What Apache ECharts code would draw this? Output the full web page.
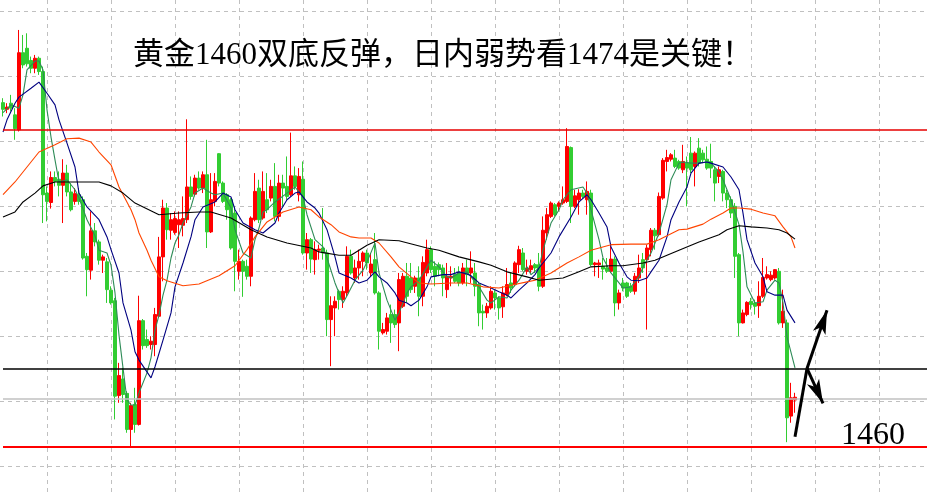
<!DOCTYPE html>
<html>
<head>
<meta charset="utf-8">
<script src="https://cdn.jsdelivr.net/npm/echarts@6/dist/echarts.min.js"></script>
<style>html,body{margin:0;padding:0;background:#fff;}#c{width:927px;height:496px;}</style>
</head>
<body>
<div id="c"></div>
<script>
// ---------------- data ----------------
const titleText = '黄金1460双底反弹，日内弱势看1474是关键！';
const levelLabel = '1460';
const categoryCount = 232;
const categories = Array.from({ length: categoryCount }, (_, i) => String(i + 1));

// candles: [open, close, low, high]
const ohlc = [
[1522.0,1520.8,1519.5,1522.8],[1520.8,1521.2,1520.1,1521.9],[1521.9,1521.0,1520.4,1523.4],[1519.8,1517.3,1515.3,1521.0],
[1517.1,1531.0,1516.8,1535.1],[1531.0,1528.8,1528.2,1534.2],[1531.8,1529.0,1528.5,1534.5],[1529.6,1528.2,1527.3,1530.3],
[1528.2,1530.0,1527.3,1530.6],[1530.0,1527.6,1527.0,1530.3],[1527.6,1505.4,1500.3,1528.5],[1505.7,1504.2,1500.6,1506.9],
[1504.0,1508.5,1502.9,1509.6],[1508.5,1507.8,1506.9,1509.6],[1508.2,1507.1,1505.1,1509.6],[1507.1,1509.3,1500.3,1511.8],
[1509.3,1505.9,1505.1,1510.8],[1505.9,1502.7,1502.4,1507.5],[1504.2,1505.6,1503.6,1506.6],[1505.4,1504.2,1503.6,1506.6],
[1504.5,1494.0,1493.7,1505.1],[1494.3,1491.9,1487.1,1494.9],[1491.8,1498.9,1490.1,1502.4],[1498.9,1496.9,1496.1,1500.3],
[1496.9,1493.6,1492.8,1497.3],[1493.6,1494.2,1491.3,1494.6],[1493.3,1488.3,1485.9,1494.0],[1488.2,1485.9,1485.6,1488.9],
[1486.3,1469.1,1464.9,1486.8],[1469.2,1472.8,1467.9,1475.1],[1472.2,1469.4,1467.9,1474.2],[1469.6,1463.1,1462.5,1470.0],
[1463.1,1467.4,1459.8,1467.9],[1467.6,1464.0,1462.5,1470.6],[1464.0,1482.7,1463.8,1487.2],[1482.7,1478.2,1477.5,1483.0],
[1479.3,1478.2,1477.8,1481.1],[1478.4,1479.0,1477.5,1479.9],[1478.4,1483.8,1476.3,1485.0],[1483.5,1494.2,1483.2,1497.8],
[1494.2,1503.0,1489.8,1504.5],[1503.0,1499.1,1497.3,1503.9],[1499.0,1500.9,1497.3,1502.1],[1498.6,1501.1,1498.2,1502.4],
[1500.0,1500.9,1495.8,1502.4],[1499.9,1501.1,1497.9,1505.1],[1500.9,1506.8,1500.3,1519.0],[1506.8,1505.1,1504.5,1508.7],
[1505.5,1508.4,1505.1,1509.0],[1508.4,1506.6,1506.3,1509.6],[1506.6,1509.0,1505.7,1509.6],[1509.0,1498.7,1495.8,1515.3],
[1498.7,1504.5,1498.5,1509.3],[1504.2,1507.8,1503.3,1509.3],[1512.8,1507.5,1506.9,1512.9],[1507.5,1504.2,1503.9,1507.8],
[1505.4,1502.7,1500.9,1505.7],[1504.5,1495.8,1495.5,1504.8],[1502.1,1493.4,1488.0,1503.3],[1491.6,1493.4,1490.1,1495.5],
[1493.4,1491.6,1487.0,1493.7],[1492.5,1490.7,1490.1,1493.7],[1490.7,1501.2,1488.9,1501.5],[1500.9,1506.0,1500.6,1509.3],
[1506.6,1500.9,1500.3,1508.1],[1501.2,1506.0,1500.9,1509.6],[1504.5,1502.7,1502.1,1509.3],[1504.8,1506.9,1504.2,1508.1],
[1506.9,1501.5,1500.6,1511.1],[1501.5,1507.5,1500.6,1509.0],[1507.5,1506.6,1503.3,1509.0],[1506.9,1505.1,1504.5,1512.3],
[1505.4,1508.8,1505.1,1516.6],[1508.8,1506.9,1506.3,1510.5],[1505.4,1508.7,1504.2,1510.2],[1508.2,1494.9,1494.6,1511.4],
[1494.9,1497.3,1491.9,1498.5],[1497.3,1493.8,1491.3,1497.6],[1493.7,1495.5,1491.0,1497.0],[1495.4,1495.6,1493.7,1496.4],
[1495.8,1494.9,1493.7,1503.0],[1494.9,1482.9,1479.9,1495.5],[1482.9,1485.4,1474.5,1487.1],[1485.0,1486.2,1479.9,1487.1],
[1488.0,1486.5,1484.7,1488.3],[1486.5,1488.0,1485.0,1488.9],[1487.7,1494.3,1487.1,1496.1],[1494.3,1491.3,1491.0,1495.5],
[1490.4,1492.2,1489.5,1493.7],[1492.2,1493.4,1490.1,1495.5],[1493.4,1494.9,1490.7,1495.2],[1494.9,1493.1,1491.9,1495.5],
[1491.3,1492.9,1490.7,1494.9],[1493.7,1487.7,1487.4,1498.5],[1487.7,1480.8,1477.5,1488.0],[1480.5,1481.1,1480.2,1482.3],
[1480.8,1483.2,1480.2,1484.1],[1483.8,1482.3,1478.7,1485.6],[1483.8,1482.0,1481.4,1484.7],[1482.3,1490.1,1477.2,1491.3],
[1485.3,1490.7,1485.0,1491.3],[1490.7,1487.1,1485.9,1493.1],[1490.4,1488.3,1487.7,1493.1],[1488.9,1490.4,1487.7,1490.8],
[1490.4,1487.1,1483.5,1492.5],[1487.1,1493.2,1485.3,1494.3],[1491.3,1495.5,1490.7,1497.3],[1495.5,1491.9,1491.3,1496.1],
[1492.5,1490.7,1488.9,1493.4],[1492.8,1491.9,1490.7,1493.2],[1492.2,1490.4,1487.1,1492.8],[1488.3,1490.7,1486.8,1493.1],
[1490.4,1490.7,1488.9,1492.5],[1491.0,1489.8,1489.5,1492.2],[1491.3,1489.5,1488.9,1492.5],[1489.5,1492.2,1489.2,1493.1],
[1492.2,1491.0,1488.9,1493.7],[1491.3,1492.2,1489.5,1495.2],[1491.3,1488.9,1487.1,1493.1],[1489.2,1484.1,1481.7,1489.5],
[1484.4,1484.1,1481.1,1485.6],[1484.1,1485.3,1483.2,1485.9],[1485.0,1488.0,1484.7,1488.9],[1487.7,1486.8,1484.7,1488.2],
[1486.8,1485.0,1482.9,1487.1],[1485.2,1487.7,1483.2,1488.9],[1487.4,1489.2,1487.1,1492.2],[1489.5,1488.6,1487.7,1491.3],
[1489.2,1493.1,1488.9,1493.4],[1492.8,1495.5,1491.3,1496.2],[1494.9,1491.9,1491.6,1495.8],[1491.6,1492.2,1491.0,1493.7],
[1491.9,1492.6,1491.3,1493.7],[1492.8,1492.2,1491.3,1493.1],[1492.8,1488.9,1488.0,1494.9],[1488.9,1499.0,1488.6,1501.5],
[1498.5,1501.8,1497.3,1503.0],[1501.5,1503.9,1501.2,1504.2],[1503.6,1501.8,1501.5,1503.9],[1503.3,1503.9,1502.4,1504.2],
[1503.9,1504.5,1503.6,1506.9],[1504.2,1514.1,1503.9,1517.4],[1513.9,1503.3,1500.3,1514.1],[1503.3,1505.2,1503.0,1506.3],
[1504.5,1505.7,1501.8,1506.4],[1505.7,1505.1,1504.8,1506.3],[1504.5,1506.0,1501.8,1507.8],[1505.7,1492.8,1492.5,1506.3],
[1492.8,1493.1,1490.7,1493.3],[1492.8,1493.1,1490.4,1493.7],[1492.5,1492.0,1490.1,1494.0],[1492.2,1491.6,1491.3,1494.0],
[1491.6,1493.8,1491.3,1496.6],[1493.8,1485.9,1483.5,1494.3],[1485.9,1487.7,1484.7,1488.3],[1489.5,1488.6,1488.0,1490.4],
[1489.5,1487.1,1486.8,1489.7],[1488.9,1488.0,1487.7,1489.5],[1488.0,1490.7,1487.4,1491.3],[1490.4,1492.2,1489.5,1494.6],
[1493.7,1492.2,1491.3,1494.9],[1493.7,1495.8,1481.1,1496.4],[1495.5,1499.0,1494.3,1499.4],[1499.0,1498.0,1495.5,1499.4],
[1498.2,1505.1,1497.9,1505.8],[1504.8,1511.6,1504.5,1512.0],[1511.4,1512.1,1509.6,1513.5],[1511.8,1512.6,1511.4,1512.9],
[1512.0,1510.5,1510.2,1513.5],[1511.4,1510.2,1509.9,1511.7],[1509.9,1511.4,1509.3,1514.4],[1511.1,1510.2,1503.3,1512.3],
[1512.9,1509.9,1509.3,1515.8],[1510.5,1512.9,1506.9,1513.2],[1513.8,1511.1,1510.5,1515.6],[1512.9,1511.7,1511.1,1513.5],
[1511.8,1510.2,1509.9,1514.1],[1511.4,1510.2,1508.4,1514.6],[1509.9,1507.5,1504.2,1510.5],[1508.7,1509.9,1507.5,1510.5],
[1509.6,1505.7,1504.2,1509.9],[1505.7,1504.5,1503.0,1506.3],[1504.5,1502.1,1501.2,1505.1],[1503.3,1494.3,1490.4,1503.9],
[1494.6,1482.3,1479.9,1494.9],[1482.3,1484.1,1482.2,1484.7],[1483.8,1486.0,1483.5,1486.2],[1486.2,1485.6,1484.7,1486.8],
[1485.9,1485.3,1483.8,1486.5],[1485.4,1487.1,1483.2,1489.8],[1487.1,1490.5,1486.8,1494.0],[1490.4,1491.0,1490.1,1492.5],
[1490.1,1490.9,1489.8,1491.6],[1490.4,1491.9,1490.1,1492.0],[1491.6,1482.3,1482.0,1492.2],[1482.3,1484.4,1481.4,1488.3],
[1482.3,1465.2,1460.8,1482.9],[1465.5,1468.8,1464.3,1471.5],[1468.4,1468.9,1466.1,1469.7]
];

// moving-average lines: [candle index, price]
const maFast = [
[0,1520.2],[2,1521.6],[4,1521.0],[5,1523.4],[6,1527.9],[8,1529.5],[9,1529.5],[10,1527.9],[11,1520.7],[12,1515.8],[13,1511.7],[14,1507.7],[16,1508.1],[18,1506.3],[19,1504.8],[21,1500.9],[23,1498.0],[24,1495.4],[26,1494.9],[27,1492.7],[28,1487.7],[29,1480.1],[30,1474.2],[31,1468.4],[32,1467.5],[33,1467.5],[34,1469.7],[36,1473.3],[37,1476.0],[38,1481.0],[39,1483.7],[40,1487.3],[41,1490.0],[42,1494.0],[43,1496.7],[44,1498.2],[45,1500.3],[47,1503.2],[48,1505.7],[50,1506.6],[52,1505.7],[53,1505.4],[55,1505.7],[57,1503.0],[58,1499.1],[60,1494.9],[62,1494.0],[63,1497.3],[64,1499.4],[65,1502.3],[66,1502.7],[68,1504.1],[71,1505.7],[73,1506.8],[75,1505.0],[76,1501.8],[78,1497.3],[80,1496.0],[81,1494.0],[83,1489.5],[85,1485.9],[86,1487.2],[88,1490.0],[90,1491.8],[91,1493.3],[93,1496.7],[94,1491.3],[96,1486.4],[98,1482.8],[99,1484.1],[101,1487.7],[102,1488.8],[104,1490.0],[106,1492.4],[107,1493.6],[109,1492.4],[111,1490.6],[112,1490.4],[114,1491.3],[116,1491.5],[117,1490.6],[119,1488.8],[121,1486.4],[122,1485.9],[124,1487.0],[126,1486.8],[127,1488.2],[129,1490.0],[131,1492.4],[132,1491.0],[134,1492.2],[135,1495.4],[137,1500.3],[139,1502.7],[140,1504.5],[142,1506.3],[145,1506.8],[146,1505.7],[147,1502.7],[149,1497.3],[150,1494.0],[152,1491.3],[154,1489.5],[155,1488.6],[157,1488.8],[159,1490.6],[160,1492.4],[162,1494.9],[164,1498.5],[166,1503.6],[167,1508.1],[169,1511.1],[170,1511.3],[172,1511.1],[174,1511.1],[176,1511.3],[177,1511.1],[179,1509.5],[180,1508.1],[182,1504.5],[184,1500.0],[185,1495.1],[186,1488.8],[188,1485.9],[190,1486.1],[191,1488.2],[193,1490.0],[194,1489.5],[195,1485.9],[196,1479.8],[198,1474.2]
];
const maMid = [
[0,1516.7],[1,1518.9],[3,1521.9],[4,1523.0],[7,1524.6],[9,1525.7],[11,1523.7],[13,1521.6],[14,1518.9],[16,1514.7],[18,1510.4],[19,1505.7],[21,1503.2],[24,1500.9],[26,1497.8],[27,1495.5],[29,1491.3],[30,1485.9],[32,1481.0],[33,1477.1],[34,1475.6],[37,1472.4],[38,1474.4],[40,1479.2],[42,1484.1],[43,1488.8],[45,1493.1],[47,1497.8],[48,1500.9],[50,1503.2],[53,1504.1],[55,1505.7],[57,1505.0],[58,1502.7],[60,1500.3],[63,1499.1],[65,1498.5],[68,1500.3],[69,1502.1],[71,1504.5],[73,1505.7],[74,1505.9],[76,1504.1],[78,1503.0],[79,1502.1],[81,1499.1],[83,1494.2],[84,1491.3],[87,1490.4],[89,1489.5],[91,1490.0],[93,1491.5],[94,1490.6],[96,1489.5],[98,1487.7],[99,1486.4],[101,1485.9],[102,1485.4],[104,1486.4],[106,1488.8],[107,1490.6],[110,1491.0],[112,1491.0],[114,1491.5],[116,1491.1],[117,1490.8],[119,1489.5],[122,1488.6],[124,1487.9],[126,1487.3],[127,1486.8],[129,1488.2],[131,1489.5],[133,1491.0],[134,1492.2],[137,1494.9],[139,1497.8],[142,1501.4],[144,1504.1],[146,1505.4],[147,1504.5],[149,1502.1],[151,1499.6],[152,1496.0],[154,1493.1],[156,1490.6],[157,1490.0],[159,1489.9],[161,1490.4],[162,1491.5],[164,1493.6],[166,1497.8],[167,1500.9],[169,1504.1],[171,1506.8],[172,1509.3],[174,1511.1],[176,1511.3],[177,1511.1],[180,1510.4],[182,1508.6],[184,1506.3],[185,1502.1],[186,1497.3],[188,1493.1],[190,1490.6],[191,1487.9],[193,1487.3],[195,1487.3],[196,1484.6],[198,1482.3]
];
const maSlow = [
[0,1505.4],[3,1507.7],[6,1510.4],[9,1513.1],[13,1514.4],[16,1515.5],[19,1515.6],[22,1514.9],[24,1513.1],[27,1510.8],[29,1506.8],[32,1502.7],[33,1500.9],[34,1498.5],[36,1495.4],[37,1493.6],[39,1490.6],[41,1489.9],[45,1489.0],[49,1489.3],[54,1490.8],[58,1492.6],[61,1495.5],[63,1497.8],[66,1500.5],[68,1501.4],[70,1502.3],[74,1503.2],[77,1502.7],[79,1501.4],[82,1500.0],[84,1498.7],[87,1497.8],[89,1497.6],[92,1497.6],[94,1496.7],[97,1494.2],[99,1492.4],[102,1490.6],[104,1489.5],[107,1489.3],[112,1489.5],[116,1489.5],[120,1488.8],[124,1488.6],[127,1489.1],[131,1489.7],[133,1490.0],[137,1491.3],[141,1493.1],[144,1494.2],[147,1495.4],[152,1496.4],[157,1496.5],[161,1496.5],[164,1497.3],[166,1498.0],[169,1499.1],[171,1499.2],[175,1500.1],[177,1501.0],[180,1502.1],[182,1503.0],[184,1503.0],[187,1502.8],[190,1502.1],[193,1501.6],[195,1499.6],[197,1497.8],[198,1495.8]
];
const maLong = [
[0,1501.4],[3,1502.3],[5,1504.1],[8,1505.7],[10,1507.0],[13,1507.7],[19,1507.7],[24,1507.7],[27,1507.0],[30,1505.7],[33,1503.9],[39,1501.8],[44,1502.1],[49,1502.3],[52,1502.3],[57,1501.2],[62,1499.1],[66,1497.8],[71,1496.7],[77,1495.8],[79,1495.1],[84,1494.5],[87,1494.5],[91,1496.3],[94,1497.3],[99,1497.1],[106,1495.8],[109,1495.4],[114,1494.2],[119,1493.3],[122,1492.7],[126,1491.5],[131,1490.6],[134,1490.0],[140,1490.4],[144,1491.5],[147,1492.4],[152,1492.6],[155,1492.6],[160,1493.1],[163,1493.6],[166,1494.5],[169,1495.4],[174,1496.9],[179,1498.2],[181,1499.1],[184,1499.8],[187,1499.6],[191,1499.4],[194,1499.1],[196,1498.5],[198,1497.4]
];

// horizontal price levels: resistance, key level 1474, bid line, support 1460
const levels = [1517.2, 1474.0, 1468.7, 1460.0];
// hand-drawn arrow annotation, in [candle index, price]
const arrowStart = [198, 1461.8];
const arrowJoint = [201, 1474.1];
const arrowUpTip = [206, 1484.6];
const arrowDownTip = [205, 1467.8];
// visible price range of the panel
const priceMin = 1451.1;
const priceMax = 1540.5;

// ---------------- chart ----------------
const chart = echarts.init(document.getElementById('c'));
const gridDash = { color: '#c0c0c0', type: [4, 4], width: 1 };
const arrowHead = { symbol: 'arrow', symbolSize: [10, 24] };
const arrowLine = { color: '#000', width: 3, type: 'solid' };

chart.setOption({
  animation: false,
  backgroundColor: '#ffffff',
  title: {
    text: titleText, left: 128, top: 35,
    textStyle: { fontSize: 31, fontWeight: 'normal', color: '#000',
      fontFamily: "'Liberation Serif','Noto Sans CJK SC',serif" }
  },
  grid: [
    { left: 3, right: 0, top: 0, bottom: 0 },
    { left: 0, right: 0, top: 11, bottom: 30 }
  ],
  xAxis: [
    { type: 'category', gridIndex: 0, data: categories, boundaryGap: false,
      axisLine: { show: false }, axisTick: { show: false }, axisLabel: { show: false },
      splitLine: { show: true, interval: (idx) => idx % 16 === 11, lineStyle: gridDash } },
    { type: 'value', gridIndex: 1, min: 0, max: 1, show: false }
  ],
  yAxis: [
    { type: 'value', gridIndex: 0, min: priceMin, max: priceMax, show: false, splitLine: { show: false } },
    { type: 'value', gridIndex: 1, min: 0, max: 7, interval: 1,
      axisLine: { show: false }, axisTick: { show: false }, axisLabel: { show: false },
      splitLine: { show: true, lineStyle: gridDash } }
  ],
  series: [
    {
      type: 'candlestick', xAxisIndex: 0, yAxisIndex: 0, data: ohlc,
      barWidth: 2.6, clip: false,
      itemStyle: { color: '#ff0000', color0: '#32cd32', borderColor: '#ff0000', borderColor0: '#32cd32', borderWidth: 1 },
      markLine: {
        silent: true, symbol: 'none', animation: false,
        label: { show: false },
        lineStyle: { type: 'solid' },
        data: [
          { yAxis: levels[0], lineStyle: { color: '#e60000', width: 1.5, type: 'solid' } },
          { yAxis: levels[1], lineStyle: { color: '#000000', width: 1.5, type: 'solid' } },
          { yAxis: levels[2], lineStyle: { color: '#c0c0c0', width: 1.5, type: 'solid' } },
          { yAxis: levels[3], lineStyle: { color: '#ff0000', width: 1.8, type: 'solid' },
            label: { show: true, position: 'insideEndTop', formatter: levelLabel, distance: [22, -5],
              color: '#000', fontSize: 32, fontFamily: "'Liberation Serif',serif" } },
          [ { coord: arrowStart, lineStyle: arrowLine }, { coord: arrowJoint } ],
          [ { coord: arrowJoint, lineStyle: arrowLine }, Object.assign({ coord: arrowUpTip }, arrowHead) ],
          [ { coord: arrowJoint, lineStyle: arrowLine }, Object.assign({ coord: arrowDownTip }, arrowHead) ]
        ]
      }
    },
    { type: 'line', data: maFast, symbol: 'none', lineStyle: { color: '#2e8b57', width: 1.1 }, silent: true },
    { type: 'line', data: maMid, symbol: 'none', lineStyle: { color: '#000080', width: 1.1 }, silent: true },
    { type: 'line', data: maSlow, symbol: 'none', lineStyle: { color: '#ff4500', width: 1.1 }, silent: true },
    { type: 'line', data: maLong, symbol: 'none', lineStyle: { color: '#000000', width: 1.1 }, silent: true }
  ]
});
</script>
</body>
</html>
